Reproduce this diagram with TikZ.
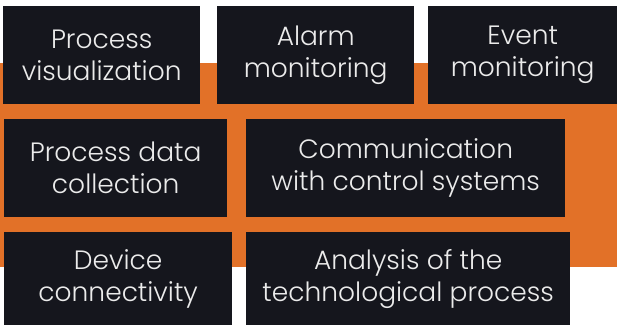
\documentclass[tikz,border=0pt]{standalone}
\usepackage{fontspec}
\setmainfont{Poppins}[UprightFont=* Light]
\definecolor{panel}{HTML}{15161D}
\definecolor{accent}{HTML}{E27128}
\tikzset{tile/.style={fill=panel, text=white!92!black, align=center, inner sep=0pt,
  anchor=north west, font=\fontsize{26.5}{32}\selectfont}}

\begin{document}
\begin{tikzpicture}[x=1pt,y=-1pt]
\useasboundingbox (0,0) rectangle (617,325);

\path (3,6) coordinate (visualTL);
\path (217,6) coordinate (alarmTL);
\path (428,6) coordinate (eventTL);
\path (4,119) coordinate (collectTL);
\path (246,119) coordinate (commTL);
\path (4,232) coordinate (deviceTL);
\path (246,232) coordinate (analysisTL);

% orange band behind the tiles
\fill [accent] (0,63) rectangle (617,267);

\node [tile, minimum width=197pt, minimum height=98pt] (visual) at (visualTL) {Process\\visualization};
\node [tile, minimum width=197pt, minimum height=98pt] (alarm) at (alarmTL) {Alarm\\monitoring};
\node [tile, minimum width=189pt, minimum height=98pt] (event) at (eventTL) {Event\\monitoring};

\node [tile, minimum width=223pt, minimum height=98pt] (collect) at (collectTL) {Process data\\collection};
\node [tile, minimum width=319pt, minimum height=98pt] (comm) at (commTL) {Communication\\with control systems};

\node [tile, minimum width=228pt, minimum height=93pt] (device) at (deviceTL) {Device\\connectivity};
\node [tile, minimum width=324pt, minimum height=93pt] (analysis) at (analysisTL) {Analysis of the\\technological process};
\end{tikzpicture}
\end{document}
